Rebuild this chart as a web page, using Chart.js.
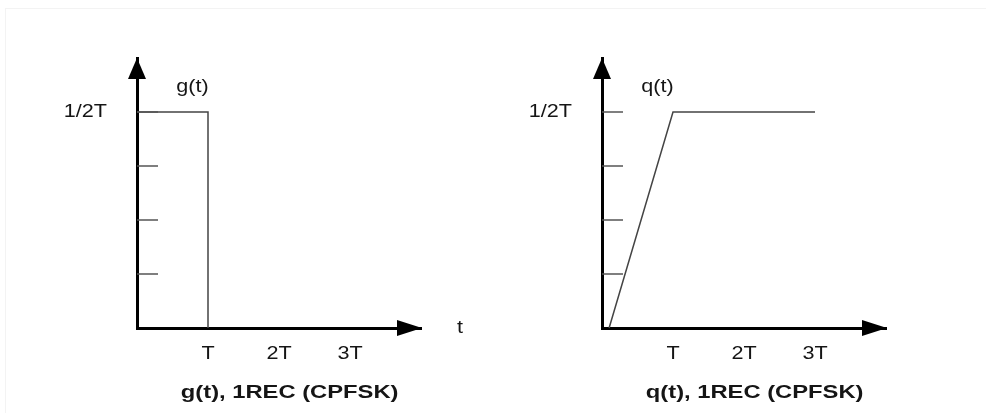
<!DOCTYPE html>
<html>
<head>
<meta charset="utf-8">
<script src="https://cdn.jsdelivr.net/npm/chart.js@4.4.0/dist/chart.umd.min.js"></script>
<style>
  html, body { margin: 0; padding: 0; background: #fff; }
  #wrap { position: relative; width: 986px; height: 413px; overflow: hidden; }
  #frame { position: absolute; left: 5px; top: 8px; right: 0; bottom: 0;
           border-left: 1px solid #f3f3f3; border-top: 1px solid #f3f3f3; }
  canvas { position: absolute; top: 0; }
</style>
</head>
<body>
<div id="wrap">
  <div id="frame"></div>
  <canvas id="gChart" width="493" height="413" style="left:0px"></canvas>
  <canvas id="qChart" width="493" height="413" style="left:493px"></canvas>
</div>
<script>
// x in units of T, y in quarters of 1/2T
const xTickValues = [1, 2, 3];
const xTickLabels = ['T', '2T', '3T'];
const yMarks = [1, 2, 3, 4];
const yTopValue = 4;
const yTopLabel = '1/2T';

const gTime = [0, 1, 1];
const gValue = [4, 4, 0];
const qTime = [0.1, 1, 3];
const qValue = [0, 4, 4];

const FONT = '"Liberation Sans", Arial, sans-serif';
const TEXT = '#151515';

// the source picture has its lettering a bit stretched sideways
function wideText(ctx, str, x, y, align, sx) {
    const w = ctx.measureText(str).width * sx;
    let left = x - w / 2;
    if (align === 'right') left = x - w;
    if (align === 'left') left = x;
    ctx.save();
    ctx.translate(left, y);
    ctx.scale(sx, 1);
    ctx.textAlign = 'left';
    ctx.fillText(str, 0, 0);
    ctx.restore();
}

// arrows, inward tick marks, labels and caption
const axisExtras = {
    id: 'axisExtras',
    afterDraw(chart, args, opts) {
        const ctx = chart.ctx;
        const a = chart.chartArea;
        const xs = chart.scales.x;
        const ys = chart.scales.y;
        ctx.save();

        // tick marks on the inside of the y axis
        ctx.strokeStyle = '#555';
        ctx.lineWidth = 1.5;
        yMarks.forEach(v => {
            const y = ys.getPixelForValue(v);
            ctx.beginPath();
            ctx.moveTo(a.left, y);
            ctx.lineTo(a.left + 21, y);
            ctx.stroke();
        });

        // arrow heads
        ctx.fillStyle = '#000';
        ctx.beginPath();
        ctx.moveTo(a.left, a.top);
        ctx.lineTo(a.left - 9, a.top + 21);
        ctx.lineTo(a.left + 9, a.top + 21);
        ctx.closePath();
        ctx.fill();
        ctx.beginPath();
        ctx.moveTo(a.right + 1, a.bottom);
        ctx.lineTo(a.right - 24, a.bottom - 8);
        ctx.lineTo(a.right - 24, a.bottom + 8);
        ctx.closePath();
        ctx.fill();

        ctx.fillStyle = TEXT;
        ctx.textBaseline = 'middle';
        ctx.font = '18px ' + FONT;
        xTickValues.forEach((v, i) => {
            wideText(ctx, xTickLabels[i], xs.getPixelForValue(v), a.bottom + 26, 'center', 1.2);
        });
        wideText(ctx, yTopLabel, a.left - 30, ys.getPixelForValue(yTopValue), 'right', 1.2);
        wideText(ctx, opts.name, xs.getPixelForValue(0.78), ys.getPixelForValue(4.46), 'center', 1.2);
        if (opts.axisName) {
            wideText(ctx, opts.axisName, a.right + 39, a.bottom, 'center', 1.2);
        }
        ctx.font = 'bold 19px ' + FONT;
        wideText(ctx, opts.caption, xs.getPixelForValue(2.15), a.bottom + 65, 'center', 1.25);
        ctx.restore();
    }
};

function makeChart(id, times, values, extras, padLeft, padRight) {
    return new Chart(document.getElementById(id), {
        type: 'line',
        data: {
            datasets: [{
                data: times.map((t, i) => ({ x: t, y: values[i] })),
                borderColor: '#444',
                borderWidth: 1.5,
                pointRadius: 0,
                fill: false,
                tension: 0,
                clip: false
            }]
        },
        options: {
            responsive: false,
            animation: false,
            events: [],
            layout: { padding: { left: padLeft, right: padRight, top: 58, bottom: 0 } },
            plugins: {
                legend: { display: false },
                tooltip: { enabled: false },
                axisExtras: extras
            },
            scales: {
                x: {
                    type: 'linear',
                    min: 0,
                    max: 4,
                    afterFit: s => { s.height = 85; },
                    grid: { display: false, drawTicks: false },
                    border: { color: '#000', width: 3 },
                    ticks: { display: false, stepSize: 1 }
                },
                y: {
                    type: 'linear',
                    min: 0,
                    max: 5,
                    afterFit: s => { s.width = 80; },
                    grid: { display: false, drawTicks: false },
                    border: { color: '#000', width: 3 },
                    ticks: { display: false, stepSize: 1 }
                }
            }
        },
        plugins: [axisExtras]
    });
}

makeChart('gChart', gTime, gValue,
    { name: 'g(t)', caption: 'g(t), 1REC (CPFSK)', axisName: 't' }, 57, 72);
makeChart('qChart', qTime, qValue,
    { name: 'q(t)', caption: 'q(t), 1REC (CPFSK)', axisName: '' }, 29, 100);
</script>
</body>
</html>
